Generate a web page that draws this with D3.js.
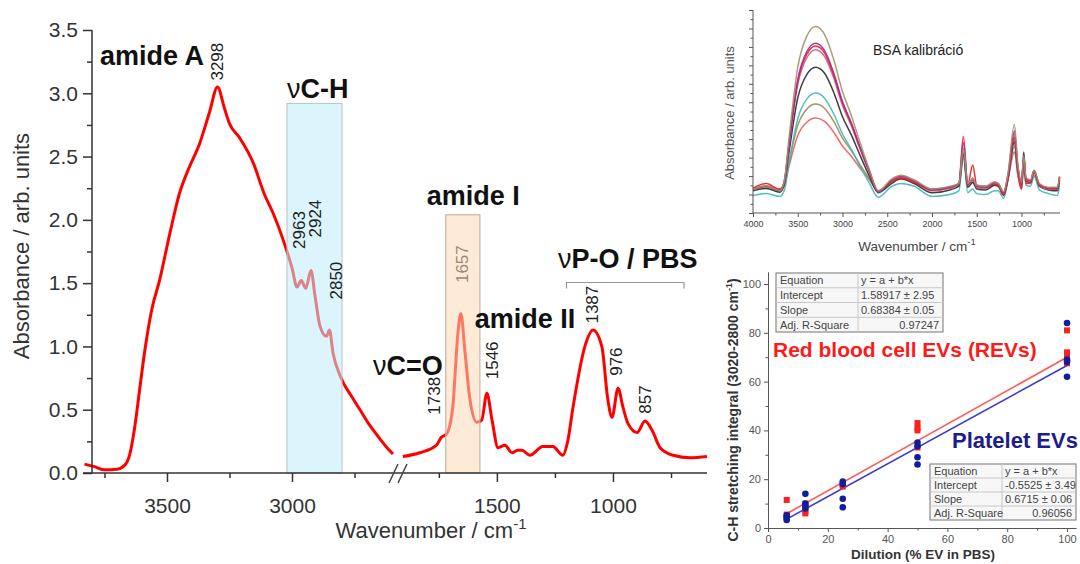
<!DOCTYPE html>
<html>
<head>
<meta charset="utf-8">
<script src="https://cdn.jsdelivr.net/npm/d3@7"></script>
<style>
  body { margin: 0; background: #fff; }
  svg { font-family: "Liberation Sans", Arial, sans-serif; }
</style>
</head>
<body>
<svg id="fig" width="1080" height="564"></svg>
<script>
// ---------- main spectrum ----------
const leftWn = [3830, 3790, 3750, 3700, 3670, 3650, 3630, 3610, 3590, 3560, 3530, 3490, 3450, 3410, 3370, 3330, 3298, 3270, 3250, 3210, 3155, 3110, 3075, 3035, 3000, 2980, 2963, 2945, 2924, 2908, 2888, 2862, 2850, 2836, 2808, 2760, 2728, 2690, 2660, 2620, 2596]
const leftAbs = [0.07, 0.05, 0.025, 0.03, 0.06, 0.14, 0.35, 0.65, 0.95, 1.3, 1.52, 1.88, 2.21, 2.42, 2.6, 2.85, 3.05, 2.88, 2.76, 2.65, 2.45, 2.2, 2.05, 1.84, 1.62, 1.47, 1.52, 1.46, 1.6, 1.4, 1.16, 1.08, 1.13, 0.95, 0.77, 0.6, 0.5, 0.38, 0.3, 0.2, 0.15]
const rightWn = [1905, 1832, 1760, 1740, 1716, 1690, 1668, 1655, 1638, 1616, 1586, 1565, 1543, 1521, 1495, 1465, 1435, 1410, 1392, 1358, 1302, 1259, 1216, 1195, 1172, 1121, 1086, 1048, 1022, 1004, 978, 957, 935, 896, 862, 832, 797, 741, 668, 595]
const rightAbs = [0.13, 0.16, 0.22, 0.28, 0.31, 0.52, 1.1, 1.26, 0.97, 0.58, 0.4, 0.42, 0.63, 0.42, 0.2, 0.22, 0.16, 0.18, 0.18, 0.14, 0.21, 0.21, 0.14, 0.25, 0.52, 1.0, 1.13, 1.0, 0.58, 0.44, 0.67, 0.52, 0.39, 0.32, 0.41, 0.34, 0.2, 0.14, 0.12, 0.13]
const yTicks = [0, 0.5, 1, 1.5, 2, 2.5, 3, 3.5]

// peak labels: text, segment, wavenumber, absorbance of label centre
const peakLabels = [
  ["3298", "L", 3298, 3.25], ["2963", "L", 2972, 1.92], ["2924", "L", 2908, 2.01],
  ["2850", "L", 2824, 1.52], ["1738", "R", 1767, 0.61], ["1546", "R", 1517, 0.89],
  ["1387", "R", 1086, 1.33], ["976", "R", 983, 0.88], ["857", "R", 862, 0.58]
]

// ---------- BSA calibration inset ----------
const bsaWn = [4000, 3850, 3700, 3650, 3600, 3500, 3400, 3300, 3200, 3100, 3000, 2900, 2800, 2700, 2600, 2450, 2350, 2200, 2000, 1800, 1700, 1650, 1600, 1545, 1500, 1400, 1300, 1260, 1200, 1150, 1080, 1040, 1000, 975, 950, 900, 860, 800, 700, 600, 575]
const bsaKhakiHigh = [1.3, 1.48, 1.21, 1.74, 3.94, 7.9, 9.57, 10.1, 9.66, 8.34, 6.58, 5.26, 3.76, 2.36, 1.2, 1.85, 2.05, 1.8, 1.3, 1.45, 1.6, 3.5, 1.6, 1.85, 1.5, 1.45, 1.7, 1.6, 1.15, 2.2, 4.8, 2.6, 1.65, 3.1, 1.9, 1.8, 2.3, 1.6, 1.4, 1.4, 2.0]
const bsaPurple = [1.3, 1.46, 1.22, 1.7, 3.67, 7.23, 8.73, 9.2, 8.8, 7.62, 6.04, 4.86, 3.51, 2.25, 1.15, 1.8, 2.0, 1.75, 1.25, 1.4, 1.6, 3.8, 1.55, 1.8, 1.45, 1.4, 1.65, 1.6, 1.1, 2.1, 4.45, 2.5, 1.6, 3.05, 1.85, 1.75, 2.25, 1.55, 1.35, 1.35, 1.95]
const bsaRed = [1.35, 1.6, 1.27, 1.74, 3.66, 7.13, 8.59, 9.05, 8.67, 7.5, 5.97, 4.82, 3.5, 2.27, 1.2, 1.7, 1.9, 1.65, 1.3, 1.4, 1.6, 4.15, 1.55, 2.6, 1.5, 1.45, 1.55, 1.5, 1.0, 1.9, 4.1, 2.2, 1.3, 2.9, 1.6, 1.65, 2.2, 1.5, 1.35, 1.3, 1.9]
const bsaRose = [1.3, 1.45, 1.22, 1.68, 3.57, 6.96, 8.4, 8.85, 8.47, 7.34, 5.83, 4.7, 3.41, 2.2, 1.15, 1.75, 1.95, 1.7, 1.2, 1.35, 1.55, 3.5, 1.5, 1.8, 1.4, 1.35, 1.6, 1.55, 1.05, 2.0, 4.3, 2.4, 1.55, 3.0, 1.8, 1.7, 2.2, 1.5, 1.3, 1.3, 1.9]
const bsaBlack = [1.2, 1.33, 1.13, 1.54, 3.21, 6.23, 7.5, 7.9, 7.57, 6.56, 5.22, 4.22, 3.08, 2.0, 1.1, 1.6, 1.85, 1.6, 1.1, 1.25, 1.45, 3.2, 1.4, 1.65, 1.3, 1.25, 1.5, 1.45, 0.95, 1.9, 3.85, 2.3, 1.5, 3.3, 1.75, 1.65, 2.3, 1.45, 1.25, 1.2, 1.8]
const bsaTeal = [0.95, 1.06, 0.9, 1.23, 2.62, 5.11, 6.17, 6.5, 6.22, 5.39, 4.28, 3.45, 2.5, 1.62, 0.85, 1.45, 1.6, 1.45, 0.9, 1.0, 1.2, 3.0, 1.1, 1.3, 1.05, 1.0, 1.2, 1.2, 0.8, 1.8, 3.6, 2.1, 1.3, 2.8, 1.5, 1.45, 2.0, 1.25, 1.05, 0.95, 1.5]
const bsaKhakiLow = [1.3, 1.39, 1.25, 1.53, 2.68, 4.75, 5.62, 5.9, 5.67, 4.98, 4.06, 3.37, 2.59, 1.85, 1.15, 1.75, 1.95, 1.7, 1.25, 1.35, 1.5, 3.3, 1.45, 1.7, 1.4, 1.35, 1.6, 1.55, 1.1, 2.0, 4.0, 2.4, 1.6, 3.0, 1.85, 1.75, 2.3, 1.55, 1.35, 1.35, 1.95]
const bsaSalmon = [1.35, 1.43, 1.31, 1.54, 2.49, 4.2, 4.92, 5.15, 4.96, 4.39, 3.63, 3.06, 2.41, 1.81, 1.2, 1.7, 1.85, 1.65, 1.25, 1.35, 1.5, 3.1, 1.45, 1.9, 1.4, 1.35, 1.5, 1.5, 1.05, 1.85, 3.3, 2.0, 1.3, 2.6, 1.6, 1.6, 2.0, 1.45, 1.3, 1.3, 1.8]
const bsaTicks = [4000, 3500, 3000, 2500, 2000, 1500, 1000]

// ---------- calibration scatter ----------
const dilutions = [6.25, 12.5, 25, 50, 100]
const revValues = [[11.5, 5.5, 4.5], [10, 7, 6], [17, 17.5, 18], [43, 41, 40, 33], [81, 72, 71, 67.5]]
const pevValues = [[5.2, 4.3, 3.3], [14, 10, 9, 8], [19, 18, 12, 8.5], [35, 33.5, 29, 26], [84, 69, 68, 62]]
const fitX = [6.25, 100]
const revFit = [5.86, 69.97]
const pevFit = [3.64, 66.6]
const revTable = [["Equation", "y = a + b*x"], ["Intercept", "1.58917 ± 2.95"], ["Slope", "0.68384 ± 0.05"], ["Adj. R-Square", "0.97247"]]
const pevTable = [["Equation", "y = a + b*x"], ["Intercept", "-0.5525 ± 3.49"], ["Slope", "0.6715 ± 0.06"], ["Adj. R-Square", "0.96056"]]

const svg = d3.select("#fig")

// ================= main chart =================
const xL = d3.scaleLinear().domain([3830, 2600]).range([84.5, 392])
const xR = d3.scaleLinear().domain([1900, 595]).range([404, 707])
const y = d3.scaleLinear().domain([0, 3.5]).range([473, 30])
const axisColor = "#333"

const main = svg.append("g")

const lineL = d3.line().x(d => xL(d[0])).y(d => y(d[1])).curve(d3.curveMonotoneX)
const lineR = d3.line().x(d => xR(d[0])).y(d => y(d[1])).curve(d3.curveMonotoneX)

main.append("path")
  .attr("d", lineL(d3.zip(leftWn, leftAbs)))
  .attr("fill", "none").attr("stroke", "#ff0000").attr("stroke-width", 3)
main.append("path")
  .attr("d", lineR(d3.zip(rightWn, rightAbs)))
  .attr("fill", "none").attr("stroke", "#ff0000").attr("stroke-width", 3)

// faded label under the amide I box
main.append("text")
  .attr("transform", `translate(${xR(1647)},${y(1.65)}) rotate(-90)`)
  .attr("text-anchor", "middle").attr("dominant-baseline", "central")
  .attr("font-size", 17).attr("fill", "#222").text("1657")

// highlight boxes
main.append("rect")
  .attr("x", xL(3020)).attr("width", xL(2800) - xL(3020))
  .attr("y", y(2.92)).attr("height", y(0) - y(2.92))
  .attr("fill", "rgb(191,236,249)").attr("fill-opacity", 0.55)
  .attr("stroke", "#b5c4c8").attr("stroke-width", 1)
main.append("rect")
  .attr("x", xR(1720)).attr("width", xR(1573) - xR(1720))
  .attr("y", y(2.04)).attr("height", y(0) - y(2.04))
  .attr("fill", "rgb(251,218,182)").attr("fill-opacity", 0.55)
  .attr("stroke", "#b8aa9c").attr("stroke-width", 1)

// axes
const yAx = main.append("g").attr("transform", `translate(92,0)`)
  .call(d3.axisLeft(y).tickValues(yTicks).tickFormat(d3.format(".1f")).tickSize(9).tickPadding(5))
yAx.select(".domain").remove()
yAx.append("g").call(d3.axisLeft(y).tickValues(yTicks.slice(0, -1).map(v => v + 0.25)).tickFormat("").tickSize(5))
  .select(".domain").remove()
main.append("line").attr("x1", 92).attr("x2", 92).attr("y1", y(3.5)).attr("y2", y(0))
  .attr("stroke", axisColor).attr("stroke-width", 1.5)

const xAxL = main.append("g").attr("transform", `translate(0,${y(0)})`)
  .call(d3.axisBottom(xL).tickValues([3500, 3000]).tickFormat(d3.format("d")).tickSize(9).tickPadding(16))
xAxL.append("g").call(d3.axisBottom(xL).tickValues([3750, 3250, 2750]).tickFormat("").tickSize(5))
const xAxR = main.append("g").attr("transform", `translate(0,${y(0)})`)
  .call(d3.axisBottom(xR).tickValues([1500, 1000]).tickFormat(d3.format("d")).tickSize(9).tickPadding(16))
xAxR.append("g").call(d3.axisBottom(xR).tickValues([1750, 1250, 750]).tickFormat("").tickSize(5))
main.selectAll(".domain").remove()
main.append("line").attr("x1", 83).attr("x2", xR.range()[1]).attr("y1", y(0)).attr("y2", y(0))
  .attr("stroke", axisColor).attr("stroke-width", 1.5)

main.selectAll(".tick line").attr("stroke", axisColor).attr("stroke-width", 1.5)
main.selectAll(".tick text").attr("font-size", 21).attr("fill", "#333")
  .attr("font-family", '"Liberation Sans", Arial, sans-serif')

// axis break marks
const bx = (xL.range()[1] + xR.range()[0]) / 2
;[-4.5, 4.5].forEach(o => {
  main.append("line")
    .attr("x1", bx + o - 4.5).attr("y1", y(0) + 10)
    .attr("x2", bx + o + 4.5).attr("y2", y(0) - 9)
    .attr("stroke", "#444").attr("stroke-width", 1.5)
})

// axis titles
main.append("text")
  .attr("transform", `translate(29,246) rotate(-90)`)
  .attr("text-anchor", "middle").attr("font-size", 22).attr("fill", "#333")
  .text("Absorbance / arb. units")
const xt = main.append("text").attr("x", 431).attr("y", 538)
  .attr("text-anchor", "middle").attr("font-size", 22).attr("fill", "#333")
xt.append("tspan").text("Wavenumber / cm")
xt.append("tspan").attr("font-size", 15).attr("dy", -9).text("-1")

// peak numbers
peakLabels.forEach(([t, seg, wn, a]) => {
  const px = seg === "L" ? xL(wn) : xR(wn)
  main.append("text")
    .attr("transform", `translate(${px},${y(a)}) rotate(-90)`)
    .attr("text-anchor", "middle").attr("dominant-baseline", "central")
    .attr("font-size", 17).attr("fill", "#222").text(t)
})

// band names
function band(px, py, nu, txt, anchor) {
  const t = main.append("text").attr("x", px).attr("y", py)
    .attr("font-size", 27).attr("font-weight", "bold").attr("fill", "#111")
    .attr("text-anchor", anchor || "start")
  if (nu) t.append("tspan").attr("font-weight", "normal").text("ν")
  t.append("tspan").text(txt)
}
band(xL(3768), y(3.22), false, "amide A")
band(xL(3020), y(2.96), true, "C-H")
band(xR(1802), y(2.12), false, "amide I")
band(xR(1595), y(1.145), false, "amide II")
band(xR(1733), y(0.774), true, "C=O", "end")
band(xR(1237), y(1.62), true, "P-O / PBS")

// bracket over the phosphate / PBS region
main.append("path")
  .attr("d", `M${xR(1200)},${y(1.505)}V${y(1.505) - 6}H${xR(694)}V${y(1.505)}`)
  .attr("fill", "none").attr("stroke", "#999").attr("stroke-width", 1.2)
  .attr("transform", "translate(0,6)")

// ================= BSA inset =================
const bx1 = d3.scaleLinear().domain([4000, 570]).range([753, 1060])
const by1 = d3.scaleLinear().domain([0, 11]).range([213, 10])
const ins = svg.append("g")

const bsaSeries = [
  [bsaSalmon, "#f25a5a"], [bsaKhakiLow, "#9d8b55"], [bsaTeal, "#3fb7b7"],
  [bsaBlack, "#2b2b2b"], [bsaRose, "#cf5f74"], [bsaRed, "#f01c1c"],
  [bsaPurple, "#9a2aa8"], [bsaKhakiHigh, "#a39267"]
]
const bLine = d3.line().x(d => bx1(d[0])).y(d => by1(d[1])).curve(d3.curveMonotoneX)
bsaSeries.forEach(([vals, c]) => {
  ins.append("path").attr("d", bLine(d3.zip(bsaWn, vals)))
    .attr("fill", "none").attr("stroke", c).attr("stroke-width", 1.5).attr("stroke-opacity", 0.9)
})

const bxAx = ins.append("g").attr("transform", `translate(0,213)`)
  .call(d3.axisBottom(bx1).tickValues(bsaTicks).tickFormat(d3.format("d")).tickSize(4).tickPadding(4))
bxAx.append("g").call(d3.axisBottom(bx1).tickValues(bsaTicks.map(v => v - 250)).tickFormat("").tickSize(2.5))
  .select(".domain").remove()
bxAx.select(".domain").attr("d", `M${bx1.range()[0]},0H${bx1.range()[1]}`)
const byAx = ins.append("g").attr("transform", `translate(${bx1(4000)},0)`)
  .call(d3.axisLeft(by1).ticks(11).tickFormat("").tickSize(4))
byAx.append("g").call(d3.axisLeft(by1).tickValues(d3.range(0.5, 11, 1)).tickFormat("").tickSize(2.5))
  .select(".domain").remove()
byAx.select(".domain").attr("d", `M0,${by1.range()[0]}V${by1.range()[1]}`)
ins.selectAll(".domain, .tick line").attr("stroke", "#555").attr("stroke-width", 1)
ins.selectAll(".tick text").attr("font-size", 9).attr("fill", "#444")
  .attr("font-family", '"Liberation Sans", Arial, sans-serif')

const bt = ins.append("text").attr("x", 917).attr("y", 251).attr("text-anchor", "middle")
  .attr("font-size", 13.5).attr("fill", "#444")
bt.append("tspan").text("Wavenumber / cm")
bt.append("tspan").attr("font-size", 9.5).attr("dy", -6).text("-1")
ins.append("text").attr("transform", `translate(734,113) rotate(-90)`)
  .attr("text-anchor", "middle").attr("font-size", 13).attr("fill", "#555")
  .text("Absorbance / arb. units")
ins.append("text").attr("x", 873).attr("y", 55).attr("font-size", 14).attr("fill", "#222")
  .text("BSA kalibráció")

// ================= scatter inset =================
const sx = d3.scaleLinear().domain([0, 103]).range([768, 1076])
const sy = d3.scaleLinear().domain([0, 105]).range([528, 271.8])
const sc = svg.append("g")

const sxAx = sc.append("g").attr("transform", `translate(0,${sy(0)})`)
  .call(d3.axisBottom(sx).tickValues(d3.range(0, 101, 20)).tickSize(4).tickPadding(3).tickSizeOuter(0))
sxAx.append("g").call(d3.axisBottom(sx).tickValues(d3.range(10, 101, 20)).tickFormat("").tickSize(2.5))
  .select(".domain").remove()
const syAx = sc.append("g").attr("transform", `translate(${sx(0)},0)`)
  .call(d3.axisLeft(sy).tickValues(d3.range(0, 101, 20)).tickSize(4).tickPadding(3).tickSizeOuter(0))
syAx.append("g").call(d3.axisLeft(sy).tickValues(d3.range(10, 101, 20)).tickFormat("").tickSize(2.5))
  .select(".domain").remove()
sc.selectAll(".domain, .tick line").attr("stroke", "#555").attr("stroke-width", 1)
sc.selectAll(".tick text").attr("font-size", 11).attr("fill", "#555")
  .attr("font-family", '"Liberation Sans", Arial, sans-serif')

const st = sc.append("text").attr("x", 923).attr("y", 559).attr("text-anchor", "middle")
  .attr("font-size", 13.5).attr("font-weight", "bold").attr("fill", "#333")
  .text("Dilution (% EV in PBS)")
const syt = sc.append("text").attr("transform", `translate(738,410) rotate(-90)`)
  .attr("text-anchor", "middle").attr("font-size", 14).attr("font-weight", "bold").attr("fill", "#333")
syt.append("tspan").text("C-H stretching integral (3020-2800 cm")
syt.append("tspan").attr("font-size", 9).attr("dy", -6).text("-1")
syt.append("tspan").attr("dy", 6).text(")")

// fits
sc.append("line").attr("x1", sx(fitX[0])).attr("x2", sx(fitX[1]))
  .attr("y1", sy(revFit[0])).attr("y2", sy(revFit[1]))
  .attr("stroke", "#ff5a5a").attr("stroke-width", 1.6)
sc.append("line").attr("x1", sx(fitX[0])).attr("x2", sx(fitX[1]))
  .attr("y1", sy(pevFit[0])).attr("y2", sy(pevFit[1]))
  .attr("stroke", "#3a3ad0").attr("stroke-width", 1.6)

const revPts = dilutions.flatMap((d, i) => revValues[i].map(v => [d, v]))
const pevPts = dilutions.flatMap((d, i) => pevValues[i].map(v => [d, v]))
sc.selectAll(".rev").data(revPts).join("rect")
  .attr("x", d => sx(d[0]) - 3).attr("y", d => sy(d[1]) - 3)
  .attr("width", 6).attr("height", 6).attr("fill", "#ff1f1f")
sc.selectAll(".pev").data(pevPts).join("circle")
  .attr("cx", d => sx(d[0])).attr("cy", d => sy(d[1])).attr("r", 3.3).attr("fill", "#0f1f9a")

// fit tables
function table(rows, x0, x1, x2, y0, rh) {
  const g = sc.append("g")
  g.append("rect").attr("x", x0).attr("y", y0).attr("width", x2 - x0).attr("height", rh * rows.length)
    .attr("fill", "#f7f7f7").attr("stroke", "#8a8a8a").attr("stroke-width", 1.2)
  g.append("line").attr("x1", x1).attr("x2", x1).attr("y1", y0).attr("y2", y0 + rh * rows.length)
    .attr("stroke", "#c8c8c8")
  rows.forEach((r, i) => {
    if (i > 0) g.append("line").attr("x1", x0).attr("x2", x2).attr("y1", y0 + rh * i).attr("y2", y0 + rh * i)
      .attr("stroke", "#c8c8c8")
    const yy = y0 + rh * i + rh / 2
    g.append("text").attr("x", x0 + 4).attr("y", yy).attr("dominant-baseline", "central")
      .attr("font-size", 11).attr("fill", "#444").text(r[0])
    const last = i === rows.length - 1
    g.append("text").attr("x", last ? x2 - 4 : x1 + 3).attr("y", yy).attr("dominant-baseline", "central")
      .attr("text-anchor", last ? "end" : "start")
      .attr("font-size", 11).attr("fill", "#444").text(r[1])
  })
}
table(revTable, 776, 858, 943, 273, 14.75)
table(pevTable, 930, 1002, 1076, 464, 14)

sc.append("text").attr("x", 773).attr("y", 357).attr("font-size", 21).attr("font-weight", "bold")
  .attr("fill", "#ff1a1a").text("Red blood cell EVs (REVs)")
sc.append("text").attr("x", 952).attr("y", 448).attr("font-size", 22).attr("font-weight", "bold")
  .attr("fill", "#1c1c8c").text("Platelet EVs")
</script>
</body>
</html>
